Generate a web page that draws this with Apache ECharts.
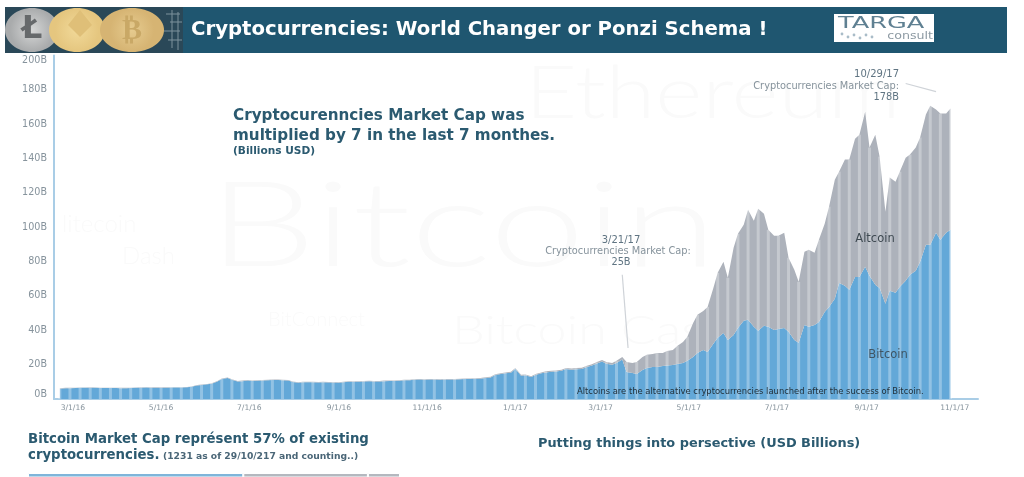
<!DOCTYPE html>
<html>
<head>
<meta charset="utf-8">
<style>html,body{margin:0;padding:0;background:#fff}#main{width:1024px;height:477px}</style>
<script src="https://cdn.jsdelivr.net/npm/echarts@6/dist/echarts.min.js"></script>
</head>
<body>
<div id="main"></div>
<script>
// two samples per week (Sunday, Thursday) from 2/21/16 to 10/29/17, in billions USD
const bitcoin = [
  6.0,6.3, 6.3,6.4, 6.5,6.5, 6.6,6.5, 6.4,6.4, 6.4,6.4, 6.3,6.3, 6.4,6.5, 6.6,6.7, 6.6,6.6,
  6.6,6.6, 6.7,6.7, 6.7,6.8, 7.1,7.9, 8.2,8.6, 8.9,10.2, 11.6,12.2, 11.2,10.2, 10.4,10.7, 10.5,10.6,
  10.8,10.9, 11,11, 10.9,10.7, 9.9,9.4, 9.7,9.8, 9.8,9.6, 9.7,9.6, 9.6,9.5, 9.8,10, 10.1,10.1,
  10.2,10.3, 10.2,10.2, 10.4,10.5, 10.5,10.6, 10.9,10.9, 11.2,11.3, 11.2,11.3, 11.3,11.2, 11.4,11.4, 11.4,11.5,
  11.6,11.6, 11.8,11.8, 12.2,12.5, 14,14.6, 15,15.3, 17.6,13.6, 13.8,12.8, 14,15, 15.5,15.8, 16,16.5,
  17.5,17, 17.3,17.5, 18.5,19.5, 20.5,21.8, 20.5,20, 21,23, 15.7,15.2, 14.6,16.9,
  18,18.7, 18.7,19.2, 19.5,19.8, 20.4,21, 22.2,24.5, 26.8,28.6, 27.4,32.1, 35.6,38.5, 34.4,37.3, 41.4,45.5,
  46.1,42, 39.7,42.6, 42,40.2, 40.8,41.4, 39.1,34.4, 32.7,43.1, 42,43.1, 44.9,50.7, 53.6,58.3, 67.6,65.9,
  63.6,71.1, 71.1,77, 71.7,66.5, 64.7,55.4, 63,61.8, 65.3,68.8, 72.3,74.6, 79.9,89.8, 89.8,96.8, 92.7,96.8,
  98.5
];
const altcoin = [
  0.2,0.2, 0.2,0.2, 0.2,0.2, 0.2,0.2, 0.2,0.2, 0.2,0.2, 0.2,0.2, 0.2,0.2, 0.2,0.2, 0.2,0.2,
  0.2,0.2, 0.2,0.2, 0.2,0.2, 0.2,0.2, 0.2,0.2, 0.3,0.3, 0.3,0.3, 0.3,0.3, 0.3,0.3, 0.3,0.3,
  0.3,0.3, 0.3,0.3, 0.3,0.3, 0.3,0.3, 0.3,0.3, 0.3,0.3, 0.3,0.3, 0.3,0.3, 0.3,0.3, 0.3,0.3,
  0.3,0.3, 0.3,0.3, 0.3,0.3, 0.3,0.3, 0.3,0.3, 0.3,0.3, 0.3,0.3, 0.3,0.3, 0.3,0.3, 0.3,0.3,
  0.3,0.3, 0.3,0.4, 0.4,0.4, 0.4,0.4, 0.4,0.5, 0.5,0.5, 0.5,0.5, 0.5,0.5, 0.6,0.6, 0.6,0.6,
  0.6,0.7, 0.7,0.7, 0.7,0.8, 0.9,0.9, 1,1, 1.2,1.5, 5.9,5.8, 7,7.6,
  7.7,7.5, 8.1,7.6, 8.5,8.8, 10.5,12.2, 14,19.8, 22.2,22.7, 26.2,32.6, 37.9,41.4, 36.2,50.7, 54.8,56,
  64.1,61.8, 71.1,65.3, 56.5,54.8, 54.2,55.4, 43.1,40.8, 35.5,42.6, 44.9,42, 47.8,51.3, 58.4,69.4, 64.8,73.5,
  75.8,80.5, 82.8,90.3, 74.7,87.4, 76.4,53.6, 65.9,64.7, 67.1,71.7, 70,71.8, 72.3,75.8, 81,71.7, 73.5,69.4,
  70.6
];
const xTickDates = ['3/1/16','5/1/16','7/1/16','9/1/16','11/1/16','1/1/17','3/1/17','5/1/17','7/1/17','9/1/17','11/1/17'];
const shareNames = ['Bitcoin','Ethereum','Other'];
const shareValues = [57,33,8.5];
const shareColors = ['#7fb5da','#b4b8bf','#b4b8bf'];

const DAY = 86400000;
const startTime = Date.UTC(2016,1,21);
const sampleTimes = bitcoin.map((v,i)=> startTime + (Math.floor(i/2)*7 + (i%2)*4)*DAY);
const stripes = bitcoin.map((v,i)=> [sampleTimes[i], i%2===0 ? +(v+altcoin[i]).toFixed(1) : null]).filter(d=>d[1]!==null);

const teal = '#2b5a70';
const greyText = '#86939c';
const dejavu = 'DejaVu Sans';
function txt(x,y,text,size,color,weight,align,scaleX){
  return {type:'text',x:x,y:y,z:20,silent:true,scaleX:scaleX||1,style:{text:text,fontSize:size,fill:color,fontWeight:weight||'normal',
    fontFamily:dejavu,textAlign:align||'left',textVerticalAlign:'middle'}};
}
function mark(x,y,text,size,scaleX){
  return {type:'text',x:x,y:y,z:-1,silent:true,scaleX:scaleX||1,style:{text:text,fontSize:size,fill:'#fafafa',fontFamily:'Lato',fontWeight:300,textVerticalAlign:'middle'}};
}
function coin(cx,rx,inner,outer){
  return {type:'ellipse',z:12,silent:true,shape:{cx:cx,cy:30,rx:rx,ry:22},
    style:{fill:new echarts.graphic.RadialGradient(0.5,0.5,0.5,[{offset:0,color:inner},{offset:1,color:outer}])}};
}
function wire(x1,y1,x2,y2){
  return {type:'line',z:11,silent:true,shape:{x1:x1,y1:y1,x2:x2,y2:y2},style:{stroke:'#7d929c',lineWidth:1}};
}
function dot(x,y){
  return {type:'circle',z:14,silent:true,shape:{cx:x,cy:y,r:1.4},style:{fill:'#a9bcc8'}};
}

const graphics = [
  // banner
  {type:'rect',z:10,silent:true,shape:{x:183,y:7,width:824,height:46},style:{fill:'#1f5670'}},
  {type:'rect',z:10,silent:true,shape:{x:5,y:7,width:178,height:46},style:{fill:'#2a4858'}},
  wire(166,14,180,14),wire(170,22,182,22),wire(164,31,180,31),wire(168,40,182,40),wire(172,10,172,48),wire(178,12,178,50),
  coin(32,27,'#d5d6d6','#a9abac'),
  txt(32,30,'Ł',32,'#66696b','bold','center'),
  coin(77,28,'#f1d999','#e5c67f'),
  {type:'polygon',z:13,silent:true,shape:{points:[[80,10],[92,25],[80,37],[68,25]]},style:{fill:'#dfbf78'}},
  coin(132,32,'#e6cb8f','#d6b473'),
  txt(132,31,'₿',30,'#c9a866','bold','center'),
  txt(191,30,'Cryptocurrencies: World Changer or Ponzi Schema !',19.7,'#ffffff','bold'),
  {type:'rect',z:13,silent:true,shape:{x:834,y:14,width:100,height:28},style:{fill:'#ffffff'}},
  txt(838,24,'TARGA',16,'#5f8092','normal','left',1.6),
  txt(933,36,'consult',11,'#8d9aa3','normal','right',1.15),
  dot(842,34),dot(848,37),dot(854,35),dot(860,38),dot(866,35),dot(872,37),
  // faint word cloud behind the chart
  mark(208,228,'Bitcoin',118,1.45), mark(525,95,'Ethereum',72,1.25), mark(452,331,'Bitcoin Cash',40,1.3),
  mark(62,224,'litecoin',24,1), mark(122,256,'Dash',24,1), mark(268,320,'BitConnect',20,1),
  // headline text
  txt(233,116,'Cryptocurenncies Market Cap was',15.2,teal,'bold'),
  txt(233,136,'multiplied by 7 in the last 7 monthes.',15.2,teal,'bold'),
  txt(233,151,'(Billions USD)',10.6,teal,'bold'),
  // callouts
  txt(621,240,'3/21/17',10,'#5f7482','normal','center'),
  txt(618,251,'Cryptocurrencies Market Cap:',9.8,greyText,'normal','center'),
  txt(621,262,'25B',9.8,'#5f7482','normal','center'),
  txt(899,74,'10/29/17',10,'#5f7482','normal','right'),
  txt(899,86,'Cryptocurrencies Market Cap:',9.8,greyText,'normal','right'),
  txt(899,97,'178B',9.8,'#5f7482','normal','right'),
  txt(875,239,'Altcoin',11.5,'#3f4a52','normal','center'),
  txt(888,355,'Bitcoin',11.5,'#3f5564','normal','center'),
  txt(577,392,'Altcoins are the alternative cryptocurrencies launched after the success of Bitcoin.',8.4,'#22303a'),
  // lower panels
  txt(28,440,'Bitcoin Market Cap représent 57% of existing',13.3,teal,'bold'),
  txt(28,456,'cryptocurrencies.',13.3,teal,'bold'),
  txt(163,457,'(1231 as of 29/10/217 and counting..)',9.2,'#4a6677','bold'),
  txt(538,444,'Putting things into persective (USD Billions)',12.9,teal,'bold')
];

const chart = echarts.init(document.getElementById('main'));
window.onresize = function(){ chart.resize(); };

const option = {
  animation:false,
  useUTC:true,
  grid:[
    {left:54,right:46,top:55.5,height:343.5},
    {left:28,top:473.5,width:372,height:5}
  ],
  xAxis:[
    {
      type:'time',gridIndex:0,splitNumber:10,
      min:Date.UTC(2016,1,18),max:Date.UTC(2017,10,16),
      splitLine:{show:false},axisTick:{show:false},
      axisLine:{show:true,lineStyle:{color:'#a9cde6',width:2}},
      axisLabel:{
        hideOverlap:false,showMinLabel:false,showMaxLabel:false,margin:5,fontSize:7.6,color:greyText,fontFamily:dejavu,
        formatter:function(v){
          const d=new Date(v);
          const s=(d.getUTCMonth()+1)+'/'+d.getUTCDate()+'/'+String(d.getUTCFullYear()).slice(2);
          return xTickDates.indexOf(s)>=0 ? s : '';
        }
      }
    },
    {type:'value',gridIndex:1,min:0,max:98.5,show:false}
  ],
  yAxis:[
    {
      type:'value',gridIndex:0,min:0,max:200,interval:20,
      splitLine:{show:false},axisTick:{show:false},
      axisLine:{show:true,lineStyle:{color:'#a9cde6',width:2}},
      axisLabel:{
        margin:7,fontSize:9.6,color:greyText,fontFamily:dejavu,
        verticalAlignMinLabel:'bottom',verticalAlignMaxLabel:'top',
        formatter:'{value}B'
      }
    },
    {type:'category',gridIndex:1,data:['share'],show:false}
  ],
  series:[
    {
      name:'Bitcoin',type:'line',stack:'cap',showSymbol:false,
      lineStyle:{width:0},areaStyle:{color:'#63a8d8',opacity:1},
      data:bitcoin.map((v,i)=>[sampleTimes[i],v]),
      z:2
    },
    {
      name:'Altcoin',type:'line',stack:'cap',showSymbol:false,
      lineStyle:{width:0},areaStyle:{color:'#adb2bb',opacity:1},
      data:altcoin.map((v,i)=>[sampleTimes[i],v]),
      z:2,
      markLine:{
        silent:true,symbol:'none',label:{show:false},
        lineStyle:{color:'#cfd3d8',type:'solid',width:1.2},
        data:[
          [{coord:[Date.UTC(2017,2,16),72.3]},{coord:[Date.UTC(2017,2,20),29.7]}],
          [{coord:[Date.UTC(2017,8,28),183.7]},{coord:[Date.UTC(2017,9,19),179]}]
        ]
      }
    },
    {
      name:'stripes',type:'bar',barWidth:3,silent:true,
      itemStyle:{color:'rgba(255,255,255,0.3)'},
      data:stripes,z:3
    }
  ].concat(shareNames.map((n,i)=>({
    name:n,type:'bar',stack:'share',xAxisIndex:1,yAxisIndex:1,barWidth:5,silent:true,
    itemStyle:{color:shareColors[i],borderColor:'#fff',borderWidth:1},
    data:[shareValues[i]]
  }))),
  graphic:graphics
};
chart.setOption(option);
</script>
</body>
</html>
